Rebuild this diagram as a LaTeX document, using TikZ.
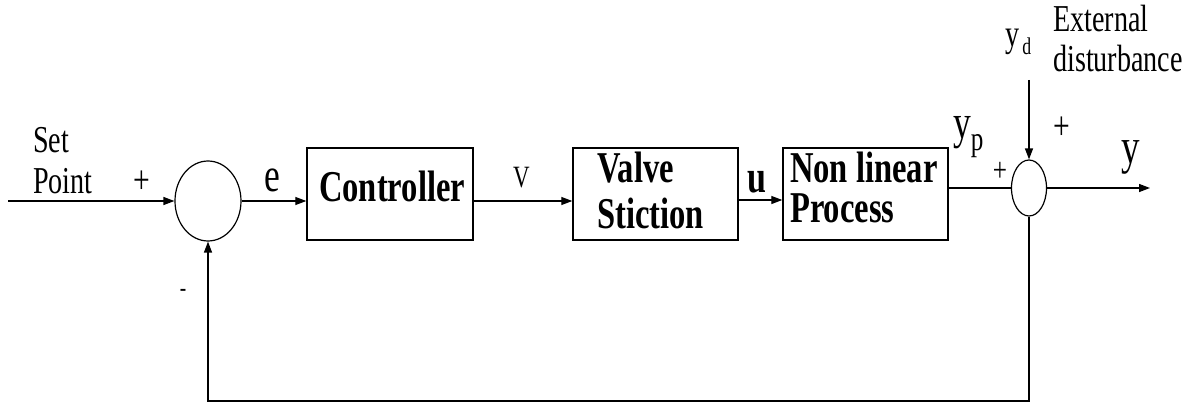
\documentclass[tikz,border=0pt]{standalone}
\usepackage{fontspec}
\setmainfont{Liberation Serif}[FakeStretch=0.74]
\usetikzlibrary{arrows.meta,shapes.geometric}
\newcommand\myfs[1]{\fontsize{#1}{#1}\selectfont}
\begin{document}
\begin{tikzpicture}[x=1pt,y=-1pt,
  blk/.style={draw,line width=1.4pt,minimum width=166pt,minimum height=92pt,inner sep=0pt},
  sumc/.style={draw,ellipse,line width=1.2pt,inner sep=0pt},
  lbl/.style={inner sep=0pt,anchor=base west},
  btxt/.style={lbl,font=\myfs{44}\bfseries},
  sgn/.style={inner sep=0pt},
  wire/.style={line width=1.3pt},
  arr/.style={wire,-{Triangle[length=11pt,width=8pt]}},
]
\useasboundingbox (0,0) rectangle (1202,404);
% blocks
\node[sumc,minimum width=66pt,minimum height=80pt] (s1) at (208,201) {};
\node[blk] (ctrl) at (390,194) {};
\node[blk,minimum width=165pt] (valve) at (655.5,194) {};
\node[blk,minimum width=165pt] (proc) at (865.5,194) {};
\node[sumc,minimum width=35pt,minimum height=56pt] (s2) at (1029,188) {};
\coordinate (in) at (8,201);
\coordinate (dist) at (1029,80);
\coordinate (out) at (1150,188);
\coordinate (fb) at (1029,401);
% connectors
\draw[arr] (in) -- (s1.west);
\draw[arr] (s1.east) -- (s1.east -| ctrl.west);
\draw[arr] ([yshift=-7pt]ctrl.east) -- ([yshift=-7pt]valve.west);
\draw[arr] ([yshift=-6pt]valve.east) -- ([yshift=-6pt]proc.west);
\draw[wire] ([yshift=6pt]proc.east) -- (s2.west);
\draw[arr] (dist) -- (s2.north);
\draw[arr] (s2.east) -- (out);
\draw[arr] (s2.south) -- (fb) -| (s1.south);
% texts
\node[lbl,font=\myfs{38}] (set) at (33,152) {Set};
\node[lbl,font=\myfs{38}] (point) at (33,193) {Point};
\node[sgn,font=\myfs{40}] (p1) at (142,182) {+};
\node[lbl,font=\myfs{48}] (e) at (264,191) {e};
\node[lbl,font=\myfs{31}] (v) at (513,187) {V};
\node[lbl,font=\myfs{46}\bfseries] (u) at (747,192) {u};
\node[btxt] (ct) at (319,201) {Controller};
\node[btxt] (vt1) at (597,182) {Valve};
\node[btxt] (vt2) at (597,228) {Stiction};
\node[btxt] (pt1) at (790,182) {Non linear};
\node[btxt] (pt2) at (790,222) {Process};
\node[lbl] (yp) at (953,138) {\myfs{48}y\myfs{34}\raisebox{-12pt}{p}};
\node[lbl] (yd) at (1005,47) {\myfs{38}y\kern3pt\myfs{24}\raisebox{-8pt}{d}};
\node[lbl,font=\myfs{38}] (ext1) at (1053,32) {External};
\node[lbl,font=\myfs{38}] (ext2) at (1053,72) {disturbance};
\node[sgn,font=\myfs{40}] (p2) at (1062,128) {+};
\node[sgn,font=\myfs{34}] (p3) at (1000,172) {+};
\node[lbl,font=\myfs{50}] (y) at (1121,163) {y};
\node[sgn,font=\myfs{26}] (m) at (183,293) {-};
\end{tikzpicture}
\end{document}
